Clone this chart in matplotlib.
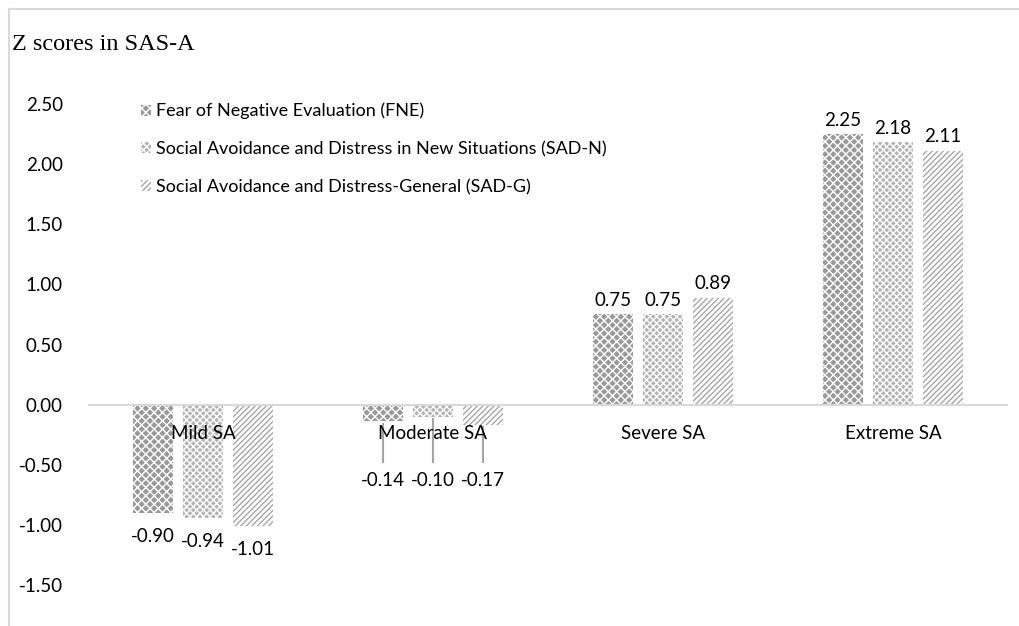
import numpy as np
import matplotlib
matplotlib.use("Agg")
import matplotlib.pyplot as plt
from matplotlib.lines import Line2D

categories = ["Mild SA", "Moderate SA", "Severe SA", "Extreme SA"]
series = ["Fear of Negative Evaluation (FNE)",
          "Social Avoidance and Distress in New Situations (SAD-N)",
          "Social Avoidance and Distress-General (SAD-G)"]
fne = [-0.90, -0.14, 0.75, 2.25]
sad_n = [-0.94, -0.10, 0.75, 2.18]
sad_g = [-1.01, -0.17, 0.89, 2.11]
yticks = [-1.5, -1.0, -0.5, 0.0, 0.5, 1.0, 1.5, 2.0, 2.5]

plt.rcParams['font.family'] = ['Lato', 'DejaVu Sans']
plt.rcParams['hatch.linewidth'] = 1.0

fig = plt.figure(figsize=(10.19, 6.26), dpi=100)
ax = fig.add_axes([88/1019, 1-585/626, 920/1019, 481/626])

# frame of the original picture (top and left only, image is cropped)
fig.add_artist(Line2D([9/1019, 1], [1-9/626, 1-9/626], color='#d9d9d9', lw=1.5))
fig.add_artist(Line2D([9/1019, 9/1019], [0, 1-9/626], color='#d9d9d9', lw=1.5))

x = np.arange(len(categories))
w = 40/230
off = 50/230
styles = [
    dict(facecolor='#999999', edgecolor='white', hatch='xxxx'),
    dict(facecolor='#b3b3b3', edgecolor='white', hatch='xxxxx'),
    dict(facecolor='white', edgecolor='#a6a6a6', hatch='//////'),
]
data = [fne, sad_n, sad_g]
for i, (vals, st) in enumerate(zip(data, styles)):
    ax.bar(x + (i-1)*off, vals, w, linewidth=0, label=series[i], **st)

fs = 13.5
# data labels
for i, vals in enumerate(data):
    for j, v in enumerate(vals):
        xx = j + (i-1)*off
        if j == 1:
            # moderate labels moved down with leader lines
            ax.plot([xx, xx], [v - 0.02, -0.48], color='#a6a6a6', lw=1.5)
            ax.text(xx, -0.63, "%.2f" % v, ha='center', va='center', fontsize=fs)
        elif v >= 0:
            ax.annotate("%.2f" % v, (xx, v), xytext=(0, 4), textcoords='offset points',
                        ha='center', va='bottom', fontsize=fs)
        else:
            ax.annotate("%.2f" % v, (xx, v), xytext=(0, -11), textcoords='offset points',
                        ha='center', va='top', fontsize=fs)

# category labels next to the zero line
for j, c in enumerate(categories):
    ax.text(j, -0.24, c, ha='center', va='center', fontsize=fs)

ax.axhline(0, color='#d9d9d9', lw=1.5, zorder=3)
ax.set_xlim(-0.5, 3.5)
ax.set_ylim(-1.5, 2.5)
ax.set_yticks(yticks)
ax.set_yticklabels(["%.2f" % t for t in yticks], fontsize=fs)
ax.tick_params(axis='y', length=0, pad=18)
ax.set_xticks([])
for s in ax.spines.values():
    s.set_visible(False)

fig.text(12/1019, 1-45/626, "Z scores in SAS-A", family='Liberation Serif',
         fontsize=17.5, ha='left', va='center')

ax.legend(loc='upper left', bbox_to_anchor=(0.04, 1.036), frameon=False,
          fontsize=13, handlelength=0.55, handleheight=0.55, handletextpad=0.3,
          labelspacing=1.2)

fig.savefig("out.png", dpi=100)
